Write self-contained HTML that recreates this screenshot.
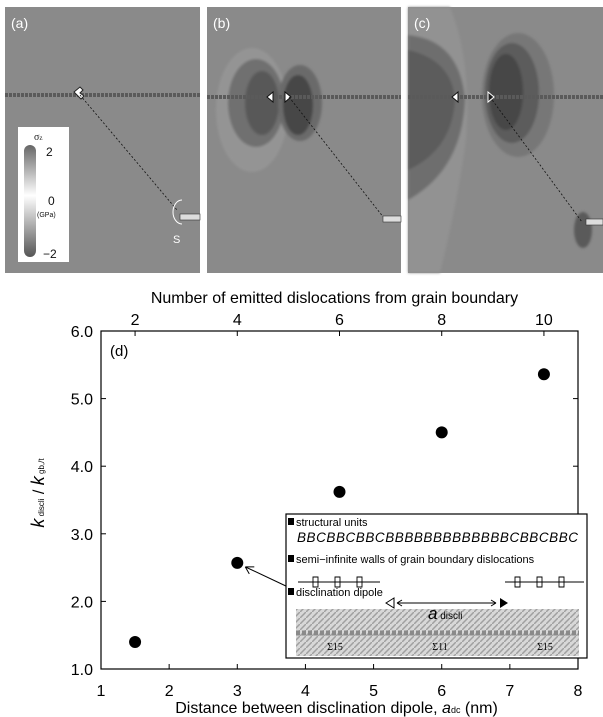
<!DOCTYPE html>
<html><head><meta charset="utf-8"><style>
body{margin:0;background:#fff;width:603px;height:717px;overflow:hidden;font-family:"Liberation Sans",sans-serif}
svg{display:block}
</style></head><body>
<svg width="603" height="717" viewBox="0 0 603 717">
<defs>
<filter id="bl" x="-50%" y="-50%" width="200%" height="200%"><feGaussianBlur stdDeviation="1.2"/></filter>
<pattern id="atoms" width="6" height="6" patternUnits="userSpaceOnUse"><rect width="6" height="6" fill="#d8d8d8"/><path d="M0 6 L6 0" stroke="#a0a0a0" stroke-width="1.5"/></pattern>
</defs>
<g>
<rect x="5" y="7" width="195" height="266" fill="#8a8a8a"/>
<line x1="5" y1="95" x2="200" y2="95" stroke="#5a5a5a" stroke-width="4" stroke-dasharray="3 1"/>
<path d="M74 92 l6 -5 l3 3 l-3 3 l4 3 l-3 3z" fill="#fff" stroke="#222" stroke-width="1"/>
<line x1="80" y1="95" x2="177" y2="210" stroke="#111" stroke-dasharray="2 2" stroke-width="0.8"/>
<path d="M182 200 a 9 12 0 0 0 0 24" fill="none" stroke="#fff" stroke-width="1"/>
<rect x="180" y="214" width="20" height="6" fill="#ddd" stroke="#333" stroke-width="0.6"/>
<text x="173" y="243" font-size="11" fill="#fff">S</text>
<text x="11" y="28" font-size="14" fill="#fff">(a)</text>
<g>
<rect x="18" y="127" width="51" height="135" fill="#fff"/>
<defs><linearGradient id="cb" x1="0" y1="0" x2="0" y2="1"><stop offset="0" stop-color="#666"/><stop offset="0.45" stop-color="#fff"/><stop offset="1" stop-color="#555"/></linearGradient></defs>
<rect x="24" y="145" width="12" height="112" rx="6" fill="url(#cb)"/>
<text x="34" y="140" font-size="10" fill="#222" font-family="Liberation Serif,serif">σ<tspan font-size="7">z</tspan></text>
<text x="46" y="156" font-size="12" fill="#111">2</text>
<text x="48" y="205" font-size="12" fill="#111">0</text>
<text x="37" y="217" font-size="7" fill="#111">(GPa)</text>
<text x="43" y="258" font-size="12" fill="#111">−2</text>
</g>
</g>
<g>
<rect x="207" y="7" width="194" height="266" fill="#8a8a8a"/>
<g filter="url(#bl)">
<ellipse cx="252" cy="110" rx="36" ry="62" fill="#949494"/>
<ellipse cx="256" cy="103" rx="28" ry="44" fill="#707070"/>
<ellipse cx="262" cy="103" rx="17" ry="32" fill="#585858"/>
<ellipse cx="300" cy="103" rx="22" ry="38" fill="#6a6a6a"/>
<ellipse cx="298" cy="105" rx="15" ry="30" fill="#464646"/>
</g>
<line x1="207" y1="97" x2="401" y2="97" stroke="#5a5a5a" stroke-width="4" stroke-dasharray="3 1"/>
<path d="M273 92 l-6 5 l6 5z" fill="#fff" stroke="#111"/>
<path d="M285 92 l6 5 l-6 5z" fill="#fff" stroke="#111"/>
<line x1="289" y1="97" x2="384" y2="218" stroke="#111" stroke-dasharray="2 2" stroke-width="0.8"/>
<rect x="383" y="216" width="18" height="6" fill="#ddd" stroke="#333" stroke-width="0.6"/>
<text x="213" y="28" font-size="14" fill="#fff">(b)</text>
</g>
<g>
<rect x="408" y="7" width="195" height="266" fill="#8a8a8a"/>
<g filter="url(#bl)">
<path d="M408 7 L450 7 Q472 60 466 140 Q458 200 440 273 L408 273z" fill="#929292"/>
<path d="M408 35 Q460 40 465 100 Q462 170 408 200z" fill="#6e6e6e"/>
<path d="M408 50 Q452 60 455 100 Q452 150 408 170z" fill="#5c5c5c"/>
<ellipse cx="518" cy="95" rx="36" ry="62" fill="#777"/>
<ellipse cx="512" cy="93" rx="27" ry="50" fill="#5c5c5c"/>
<ellipse cx="506" cy="92" rx="17" ry="38" fill="#464646"/>
<ellipse cx="583" cy="230" rx="9" ry="18" fill="#5a5a5a"/>
</g>
<line x1="408" y1="97" x2="603" y2="97" stroke="#5a5a5a" stroke-width="4" stroke-dasharray="3 1"/>
<path d="M458 92 l-6 5 l6 5z" fill="#fff" stroke="#111"/>
<path d="M488 92 l6 5 l-6 5z" fill="#222" stroke="#fff"/>
<line x1="490" y1="97" x2="582" y2="222" stroke="#111" stroke-dasharray="2 2" stroke-width="0.8"/>
<rect x="586" y="219" width="17" height="6" fill="#ddd" stroke="#333" stroke-width="0.6"/>
<text x="414" y="28" font-size="14" fill="#fff">(c)</text>
</g>
<g id="chart"></g>
</svg>
<script>
const xTicks=[1,2,3,4,5,6,7,8];
const yTicks=[1.0,2.0,3.0,4.0,5.0,6.0];
const topTicks=[2,4,6,8,10];
const xVals=[1.5,3,4.5,6,7.5];
const yVals=[1.4,2.57,3.62,4.5,5.36];
const NS="http://www.w3.org/2000/svg";
const L=101,R=578,T=331,B=669;
const sx=v=>L+(v-1)/7*(R-L);
const sy=v=>B-(v-1)/5*(B-T);
const stx=n=>sx(n*0.75);
const g=document.getElementById('chart');
function el(t,a,txt){const e=document.createElementNS(NS,t);for(const k in a)e.setAttribute(k,a[k]);if(txt!==undefined)e.textContent=txt;g.appendChild(e);return e;}
let f=el('rect',{x:L,y:T,width:R-L,height:B-T,fill:'none',stroke:'#000','stroke-width':1.2});


xTicks.forEach(v=>{
 let t=el('line',{x1:sx(v),x2:sx(v),y1:B,y2:B-5,stroke:'#000'});
 
 
 let l=el('text',{x:sx(v),y:B+27,'font-size':16,'text-anchor':'middle'},v);
 
 
});
yTicks.forEach(v=>{
 let t=el('line',{x1:L,x2:L+5,y1:sy(v),y2:sy(v),stroke:'#000'});
 
 
 let t2=el('line',{x1:R,x2:R-5,y1:sy(v),y2:sy(v),stroke:'#000'});
 
 
 let l=el('text',{x:L-8,y:sy(v)+6,'font-size':16,'text-anchor':'end'},v.toFixed(1));
 
 
});
topTicks.forEach(n=>{
 let t=el('line',{x1:stx(n),x2:stx(n),y1:T,y2:T+5,stroke:'#000'});
 
 
 let l=el('text',{x:stx(n),y:T-6,'font-size':16,'text-anchor':'middle'},n);
 
 
});
let tt=el('text',{x:(L+R)/2-5,y:303,'font-size':16,'text-anchor':'middle'},'Number of emitted dislocations from grain boundary');


let xt=el('text',{x:(L+R)/2-3,y:713,'font-size':16,'text-anchor':'middle'});
xt.innerHTML='Distance between disclination dipole, <tspan font-style="italic">a</tspan><tspan font-size="9">dc</tspan> (nm)';


let yt=el('text',{x:0,y:0,'font-size':16,'text-anchor':'middle',transform:'translate(44,493) rotate(-90)'});
yt.innerHTML='<tspan font-style="italic" font-size="18">k</tspan><tspan font-size="8"> discli</tspan> / <tspan font-style="italic" font-size="18">k</tspan><tspan font-size="8"> gb,/t</tspan>';


let pl=el('text',{x:110,y:356,'font-size':15},'(d)');


xVals.forEach((v,i)=>{
 let c=el('circle',{cx:sx(v),cy:sy(yVals[i]),r:6,fill:'#000'});
 
 
});
let ar=el('path',{d:`M288 587 L${sx(3)+8} ${sy(2.57)+4} M${sx(3)+8} ${sy(2.57)+4} l9 0 M${sx(3)+8} ${sy(2.57)+4} l4 7`,stroke:'#000',fill:'none','stroke-width':1});


const ix=286,iy=514,iw=301,ih=144;
let ib=el('rect',{x:ix,y:iy,width:iw,height:ih,fill:'#fff',stroke:'#000','stroke-width':1.2});


let im=el('rect',{x:296,y:609,width:283,height:47,fill:'url(#atoms)'});


let bd=el('line',{x1:296,y1:633,x2:579,y2:633,stroke:'#8a8a8a','stroke-width':5,'stroke-dasharray':'4 2'});


[[335,'Σ15'],[440,'Σ11'],[545,'Σ15']].forEach(([x,s])=>{let t=el('text',{x:x,y:650,'font-size':10,'text-anchor':'middle','font-family':'Liberation Serif,serif'},s);
 
 });
[[526,'structural units'],[563,'semi−infinite walls of grain boundary dislocations'],[596,'disclination dipole']].forEach(([y,s])=>{
 let q=el('rect',{x:288,y:y-8,width:6,height:7,fill:'#000'});
 
 
 let t=el('text',{x:296,y:y,'font-size':11},s);
 
 
});
let su=el('text',{x:297,y:542,'font-size':13.5,'font-style':'italic',textLength:281},'BBCBBCBBCBBBBBBBBBBBBBCBBCBBC');


let wl=el('path',{d:'M298 582 H380 M318 577 v10 h-5 v-10z M340 577 v10 h-5 v-10z M362 577 v10 h-5 v-10z M505 582 H584 M520 577 v10 h-5 v-10z M542 577 v10 h-5 v-10z M564 577 v10 h-5 v-10z',stroke:'#000',fill:'#fff','stroke-width':0.9});


let dp=el('path',{d:'M386 603 l8 -5 v10z',fill:'#fff',stroke:'#000'});


let dp2=el('path',{d:'M500 598 l8 5 l-8 5z',fill:'#000'});


let da=el('path',{d:'M397 603 H496 M397 603 l5 -3 M397 603 l5 3 M496 603 l-5 -3 M496 603 l-5 3',stroke:'#000',fill:'none'});


let al=el('text',{x:428,y:619,'font-size':17,'font-style':'italic'});
al.innerHTML='a<tspan font-size="10" font-style="normal"> discli</tspan>';


</script>
</body></html>
